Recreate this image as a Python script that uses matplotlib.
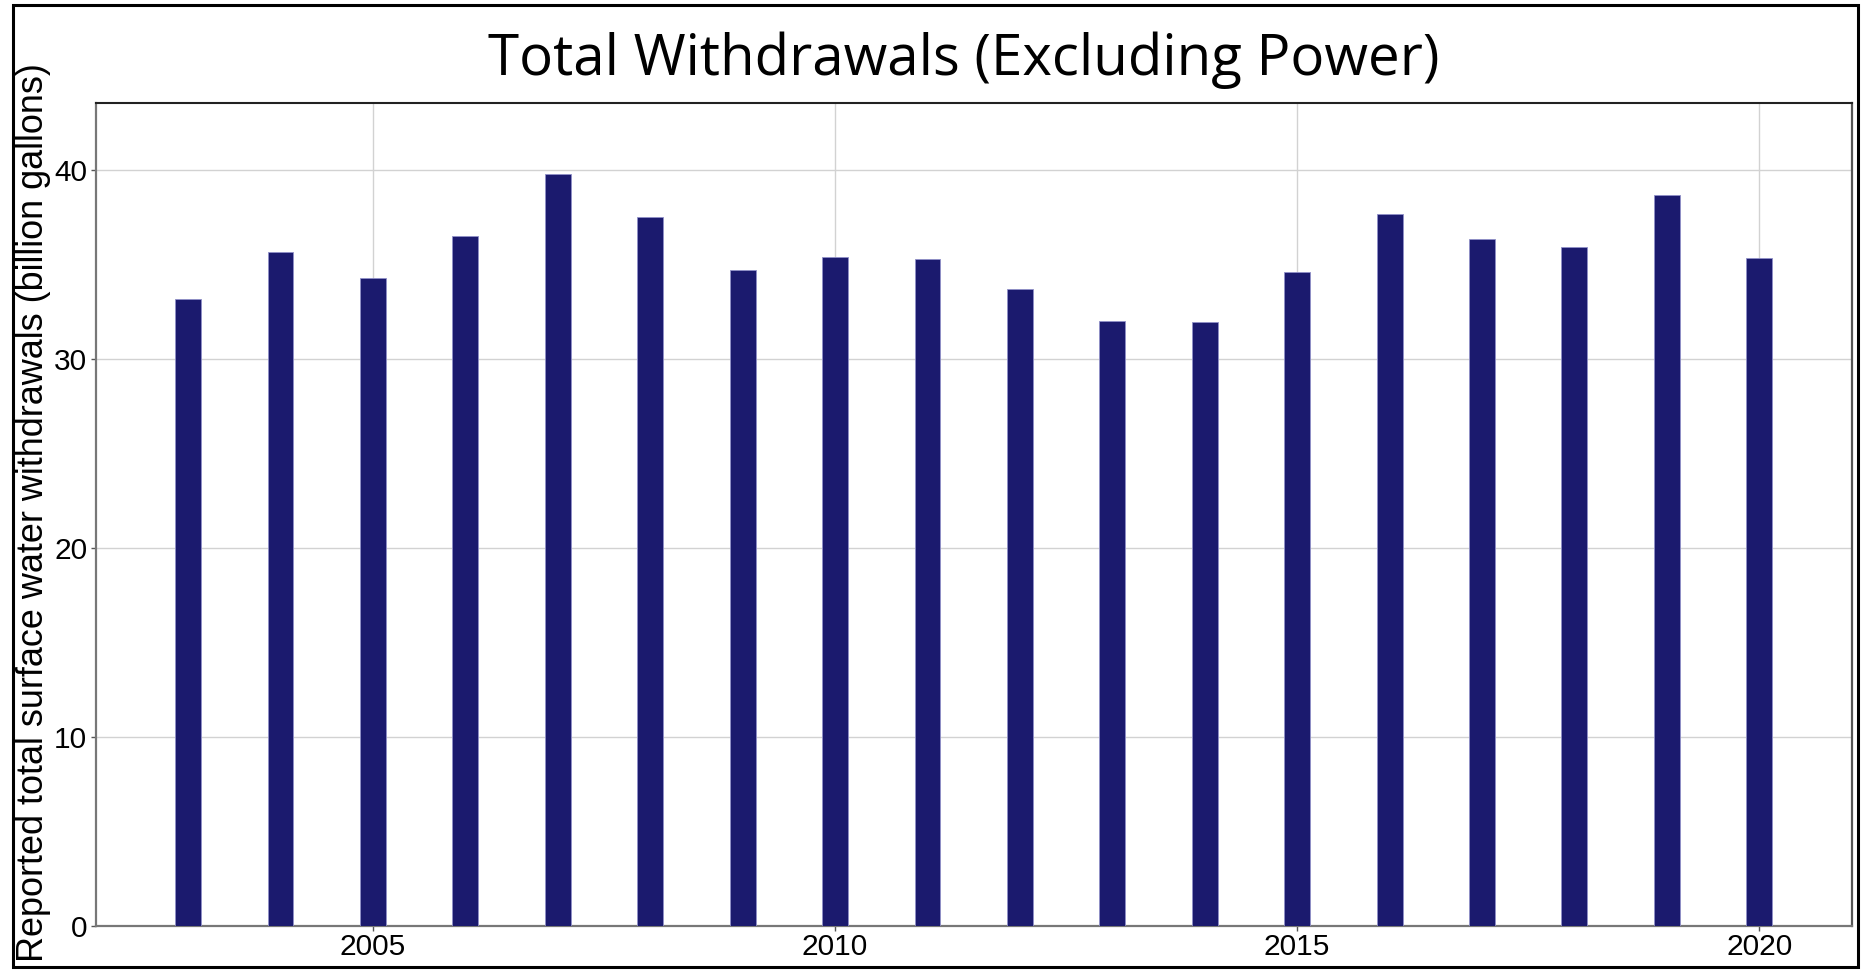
import matplotlib
matplotlib.use("Agg")
import matplotlib.pyplot as plt
from matplotlib.patches import Rectangle

years = [2003, 2004, 2005, 2006, 2007, 2008, 2009, 2010, 2011, 2012,
         2013, 2014, 2015, 2016, 2017, 2018, 2019, 2020]
withdrawals = [33.17, 35.64, 34.26, 36.5, 39.78, 37.52, 34.72, 35.4, 35.3, 33.71,
               32.0, 31.95, 34.6, 37.68, 36.36, 35.9, 38.65, 35.34]
x_ticks = [2005, 2010, 2015, 2020]
y_ticks = [0, 10, 20, 30, 40]
title = "Total Withdrawals (Excluding Power)"
ylabel = "Reported total surface water withdrawals (billion gallons)"

W, H = 1865, 973
fig = plt.figure(figsize=(W / 100, H / 100), dpi=100)
L, R, T, B = 95.7, 1851.7, 103.3, 925.7
ax = fig.add_axes([L / W, 1 - B / H, (R - L) / W, (B - T) / H])

ax.bar(years, withdrawals, width=0.28, color="#1b1a6e", edgecolor="#9090c8",
       linewidth=0.6, zorder=3)

ax.set_xlim(2002.0, 2021.0)
ax.set_ylim(0, 43.52)
ax.set_xticks(x_ticks)
ax.set_yticks(y_ticks)
ax.grid(True, color="#d2d2d2", linewidth=1.0, zorder=0)
ax.tick_params(axis="both", labelsize=21.5, length=3.6, width=1, color="#555555")
ax.tick_params(axis="y", pad=2.5)
ax.tick_params(axis="x", pad=1.5)
for lab in ax.get_xticklabels() + ax.get_yticklabels():
    lab.set_fontfamily("Liberation Sans")

for side in ["left", "bottom", "right"]:
    ax.spines[side].set_color("#777777")
    ax.spines[side].set_linewidth(1.6)
ax.spines["right"].set_color("#555555")
ax.spines["top"].set_color("#222222")
ax.spines["top"].set_linewidth(1.5)

fig.text(34 / W, 1 - 513 / H, ylabel, rotation=90, ha="center", va="center",
         fontsize=25.9, family="Liberation Sans")
fig.text(964 / W, 1 - 75 / H, title, ha="center", va="baseline",
         fontsize=40.6, family="Open Sans")

# outer frame around the figure content
fig.add_artist(Rectangle((12.7 / W, 1 - 966.7 / H), (1857.7 - 12.7) / W,
                         (966.7 - 5) / H, transform=fig.transFigure,
                         fill=False, edgecolor="black", linewidth=2.2))

fig.savefig("out.png", dpi=100)
